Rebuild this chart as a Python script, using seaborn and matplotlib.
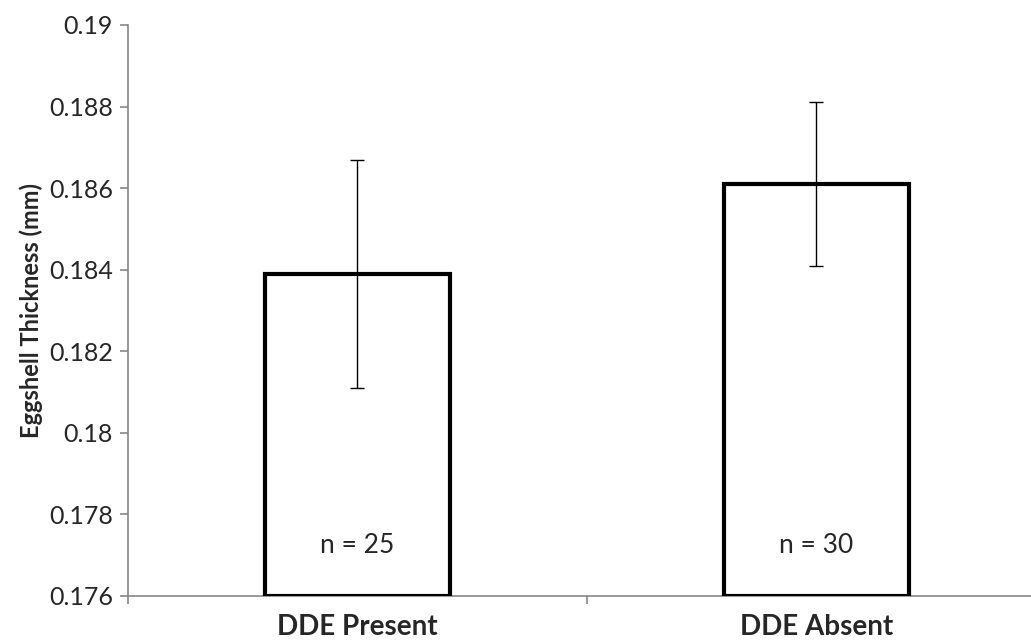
import numpy as np
import pandas as pd
import matplotlib
matplotlib.use('Agg')
import matplotlib.pyplot as plt
import matplotlib.ticker as mticker
import seaborn as sns

# ── data ─────────────────────────────────────────────
GROUPS   = ['DDE Present', 'DDE Absent']
MEANS    = [0.1839, 0.1861]
ERRS     = [0.0028, 0.0020]
N_LABELS = ['n = 25', 'n = 30']
Y_MIN, Y_MAX, Y_STEP = 0.176, 0.19, 0.002

sns.set_theme(style='white')
plt.rcParams['font.family'] = ['Lato', 'DejaVu Sans']

AXIS_GREY = '#868686'

df = pd.DataFrame({'group': GROUPS, 'mean': MEANS})

fig = plt.figure(figsize=(10.31, 6.4), dpi=100)
# plot area runs a little past the right edge, as in the original
ax = fig.add_axes([0.1242, 0.069, 0.890, 0.892])

sns.barplot(data=df, x='group', y='mean', order=GROUPS, width=0.403,
            color='white', edgecolor='black', linewidth=3, saturation=1,
            errorbar=None, ax=ax)

# bars start at the axis floor like the Excel chart
for p in ax.patches:
    top = p.get_y() + p.get_height()
    p.set_y(Y_MIN)
    p.set_height(top - Y_MIN)
    p.set_joinstyle('miter')
    p.set_zorder(3)

xs = np.arange(len(GROUPS))
ax.errorbar(xs, MEANS, yerr=ERRS, fmt='none', ecolor='black',
            elinewidth=1.0, capsize=5, capthick=1.0, zorder=4)

for x, lab in zip(xs, N_LABELS):
    ax.text(x, Y_MIN + 0.00123, lab, ha='center', va='center', fontsize=19, zorder=5)

ax.set_ylim(Y_MIN, Y_MAX)
ax.set_xlim(-0.5, len(GROUPS) - 0.5)
ax.yaxis.set_major_locator(mticker.MultipleLocator(Y_STEP))
ax.yaxis.set_major_formatter(mticker.FuncFormatter(
    lambda v, _: f'{v:.3f}'.rstrip('0')))
ax.xaxis.set_minor_locator(mticker.FixedLocator(np.arange(-0.5, len(GROUPS), 1.0)))

ax.set_xlabel('')
ax.set_ylabel('Eggshell Thickness (mm)', fontsize=17, fontweight='bold', labelpad=4)
for t in ax.get_xticklabels():
    t.set_fontweight('bold')
    t.set_fontsize(20)

for s in ['top', 'right']:
    ax.spines[s].set_visible(False)
for s in ['left', 'bottom']:
    ax.spines[s].set_color(AXIS_GREY)
    ax.spines[s].set_linewidth(1.2)

ax.tick_params(axis='y', which='major', direction='out', length=6, width=1.2,
               color=AXIS_GREY, labelsize=18, pad=5, left=True)
ax.tick_params(axis='x', which='major', length=0, pad=13)
ax.tick_params(axis='x', which='minor', direction='out', length=6, width=1.2,
               color=AXIS_GREY, bottom=True)
ax.grid(False)

fig.savefig('out.png', dpi=100)
plt.close()
